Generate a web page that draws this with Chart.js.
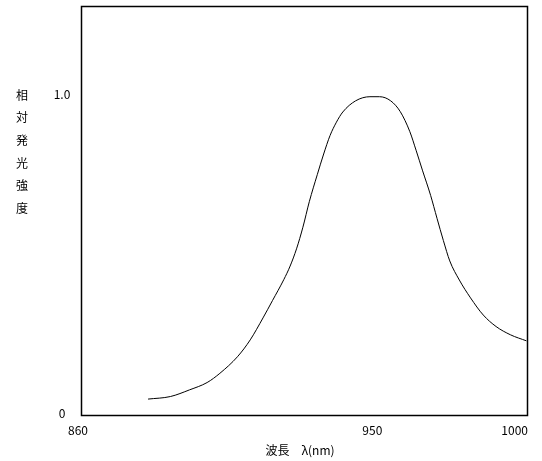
<!DOCTYPE html>
<html>
<head>
<meta charset="utf-8">
<script src="https://cdn.jsdelivr.net/npm/chart.js@4/dist/chart.umd.min.js"></script>
<style>
  html, body { margin: 0; padding: 0; background: #fff; }
  #wrap { width: 542px; height: 461px; }
</style>
</head>
<body>
<div id="wrap"><canvas id="c" width="542" height="461"></canvas></div>
<script>
const wavelengths = [881, 888, 894, 899.5, 903.5, 909, 913, 917, 920, 923.5, 925.5, 927.5, 929.5, 931.5, 934, 936, 938, 940, 942, 946, 950.5, 953.5, 957, 960, 963, 965, 967, 969.5, 971.5, 973.5, 975.5, 978.5, 982, 986, 990, 994.5, 999.5];
const intensity = [0.050, 0.058, 0.079, 0.102, 0.131, 0.183, 0.236, 0.305, 0.360, 0.425, 0.468, 0.522, 0.590, 0.670, 0.755, 0.820, 0.878, 0.920, 0.952, 0.987, 1.0, 1.0, 0.987, 0.953, 0.890, 0.830, 0.767, 0.690, 0.618, 0.548, 0.484, 0.424, 0.368, 0.314, 0.278, 0.252, 0.233];
const xTicks = [860, 950, 1000];
const xTickLabels = ['860', '950', '1000'];
const yTicks = [0, 1.0];
const yTickLabels = ['0', '1.0'];
const xTitle = '波長\u3000λ(nm)';
const yTitle = '相対発光強度';

const FONT = '12px "Noto Sans CJK JP", "Noto Sans", sans-serif';

const labelPlugin = {
  id: 'labels',
  afterDraw(chart) {
    const ctx = chart.ctx;
    const a = chart.chartArea;
    const xs = chart.scales.x, ys = chart.scales.y;
    ctx.save();
    // frame
    ctx.strokeStyle = '#000';
    ctx.lineWidth = 1.5;
    ctx.strokeRect(Math.round(a.left) + 0.5, Math.round(a.top) + 0.5,
                   Math.round(a.right - a.left) - 1, Math.round(a.bottom - a.top));
    ctx.fillStyle = '#000';
    ctx.font = FONT;
    ctx.textBaseline = 'middle';
    // x tick labels
    const nudge = [-3, 4, 0];
    xTicks.forEach((v, i) => {
      const px = xs.getPixelForValue(v);
      if (i === xTicks.length - 1) {
        ctx.textAlign = 'right';
        ctx.fillText(xTickLabels[i], a.right, 430);
      } else {
        ctx.textAlign = 'center';
        ctx.fillText(xTickLabels[i], px + nudge[i], 430);
      }
    });
    // y tick labels
    ctx.textAlign = 'center';
    yTicks.forEach((v, i) => {
      const py = ys.getPixelForValue(v);
      ctx.fillText(yTickLabels[i], 62, py - 2);
    });
    // x title
    ctx.fillText(xTitle, 300, 450);
    // y title (vertical stacked)
    const chars = Array.from(yTitle);
    chars.forEach((ch, i) => {
      ctx.fillText(ch, 22, 95 + i * 22.7);
    });
    ctx.restore();
  }
};

new Chart(document.getElementById('c'), {
  type: 'line',
  data: {
    datasets: [{
      data: wavelengths.map((x, i) => ({ x: x, y: intensity[i] })),
      borderColor: '#000',
      borderWidth: 1,
      pointRadius: 0,
      fill: false,
      cubicInterpolationMode: 'monotone'
    }]
  },
  options: {
    responsive: false,
    animation: false,
    events: [],
    layout: { padding: { top: 6, right: 14, left: 0, bottom: 0 } },
    plugins: { legend: { display: false }, tooltip: { enabled: false } },
    scales: {
      x: {
        type: 'linear', min: 860, max: 1000,
        afterBuildTicks(s) { s.ticks = xTicks.map(v => ({ value: v })); },
        afterFit(s) { s.height = 46; },
        ticks: { display: false },
        grid: { display: false },
        border: { display: false }
      },
      y: {
        type: 'linear', min: 0, max: 1.285,
        afterBuildTicks(s) { s.ticks = yTicks.map(v => ({ value: v })); },
        afterFit(s) { s.width = 81; },
        ticks: { display: false },
        grid: { display: false },
        border: { display: false }
      }
    }
  },
  plugins: [labelPlugin]
});
</script>
</body>
</html>
